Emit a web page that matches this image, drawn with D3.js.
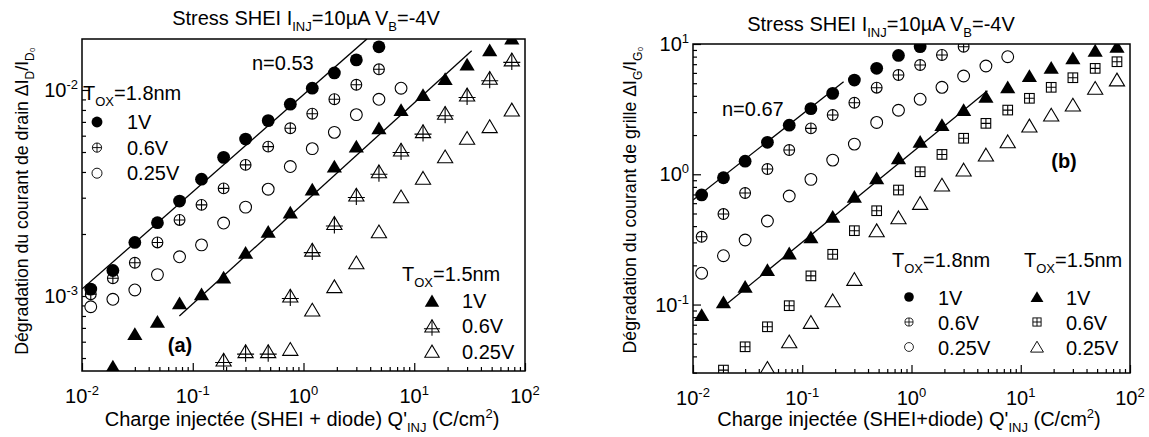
<!DOCTYPE html>
<html><head><meta charset="utf-8">
<script src="https://cdn.jsdelivr.net/npm/d3@7"></script>
<style>
body{margin:0;background:#fff}
svg text{font-family:"Liberation Sans",Arial,sans-serif;fill:#000}
</style>
</head><body>
<svg id="c" width="1149" height="437"></svg>
<script>
// ---------- DATA ----------
const Q = [0.012,0.019,0.03,0.048,0.076,0.12,0.19,0.3,0.48,0.76,1.2,1.9,3,4.8,7.6,12,19,30,48,76];
const xTickValues = [0.01,0.1,1,10,100];
const xTickExps = ["-2","-1","0","1","2"];
const leftYTickValues = [0.001,0.01];
const leftYTickExps = ["-3","-2"];
const rightYTickValues = [0.1,1,10];
const rightYTickExps = ["-1","0","1"];

// Panel (a): drain current degradation
const a18_1V   = [1.08e-3,1.33e-3,1.82e-3,2.27e-3,2.89e-3,3.69e-3,4.71e-3,5.78e-3,7.10e-3,8.53e-3,1.02e-2,1.21e-2,1.40e-2,1.62e-2,null,null,null,null,null,null];
const a18_06V  = [1.02e-3,1.22e-3,1.45e-3,1.82e-3,2.34e-3,2.77e-3,3.33e-3,4.33e-3,5.31e-3,6.52e-3,7.67e-3,9.02e-3,1.06e-2,1.26e-2,null,null,null,null,null,null];
const a18_025V = [8.87e-4,9.64e-4,1.07e-3,1.27e-3,1.55e-3,1.77e-3,2.26e-3,2.70e-3,3.30e-3,4.25e-3,5.19e-3,6.23e-3,7.59e-3,9.01e-3,1.02e-2,null,null,null,null,null];
const a15_1V   = [null,4.54e-4,6.54e-4,7.50e-4,9.22e-4,1.02e-3,1.23e-3,1.62e-3,2.05e-3,2.54e-3,3.29e-3,4.25e-3,5.31e-3,6.52e-3,8.00e-3,9.46e-3,1.13e-2,1.33e-2,1.56e-2,1.78e-2];
const a15_06V  = [null,null,null,null,null,null,4.89e-4,5.37e-4,5.37e-4,1.00e-3,1.67e-3,2.25e-3,3.09e-3,4.01e-3,5.11e-3,6.28e-3,7.71e-3,9.46e-3,1.14e-2,1.40e-2];
const a15_025V = [null,null,null,null,null,null,null,null,null,5.51e-4,8.55e-4,1.11e-3,1.45e-3,2.05e-3,3.03e-3,3.73e-3,4.74e-3,5.83e-3,6.64e-3,8.00e-3];
const aFit1 = [[0.01,1.08e-3],[3.74,0.0177]];
const aFit2 = [[0.0757,8.0e-4],[33.0,0.0155]];

// Panel (b): gate current degradation
const b18_1V   = [0.694,0.94,1.26,1.76,2.38,3.19,4.18,5.29,6.51,8.17,9.53,null,null,null,null,null,null,null,null,null];
const b18_06V  = [0.331,0.495,0.718,1.097,1.535,2.25,2.85,3.54,4.62,5.78,6.90,8.24,9.53,null,null,null,null,null,null,null];
const b18_025V = [0.174,0.237,0.313,0.438,0.681,0.914,1.285,1.705,2.50,3.10,3.77,4.65,5.68,6.78,7.99,null,null,null,null,null];
const b15_1V   = [0.083,0.104,0.137,0.184,0.247,0.328,0.472,0.673,0.931,1.325,1.778,2.39,3.11,3.94,4.65,5.68,6.58,7.76,8.89,9.53];
const b15_06V  = [null,0.0314,0.0474,0.0675,0.098,0.166,0.243,0.369,0.525,0.757,1.046,1.42,1.89,2.46,3.11,3.83,4.65,5.51,6.50,7.31];
const b15_025V = [null,null,null,0.0324,0.0518,0.0730,0.107,0.156,0.369,0.464,0.598,0.827,1.079,1.406,1.778,2.35,2.85,3.40,4.57,5.30];
const bFit1 = [[0.01,0.634],[0.239,5.14]];
const bFit2 = [[0.0198,0.0991],[4.96,4.38]];

// ---------- DRAWING ----------
const svg = d3.select("#c");
const FS = 20;

function richText(g, x, y, parts, opts={}) {
  const t = g.append("text").attr("x", x).attr("y", y)
    .attr("font-size", opts.size || FS)
    .attr("text-anchor", opts.anchor || "start");
  if (opts.weight) t.attr("font-weight", opts.weight);
  if (opts.transform) t.attr("transform", opts.transform);
  let shift = 0;
  const subFs = opts.subSize || 13;
  parts.forEach(p => {
    let target = 0, fs = null;
    if (typeof p === "string") p = {t: p};
    if (p.sub) { target = 6; fs = subFs; }
    if (p.sup) { target = -8; fs = subFs; }
    const ts = t.append("tspan").text(p.t).attr("dy", target - shift);
    if (fs) ts.attr("font-size", fs);
    shift = target;
  });
  return t;
}

function marker(g, type, cx, cy, s=1) {
  const m = g.append("g").attr("transform", `translate(${cx},${cy}) scale(${s})`);
  const triPath = "M0,-6.8L7.6,6L-7.6,6Z";
  switch(type) {
    case "dot": m.append("circle").attr("r", 6.4).attr("fill", "#000"); break;
    case "ocirc": m.append("circle").attr("r", 5.9).attr("fill", "#fff").attr("stroke", "#000").attr("stroke-width", 1.1); break;
    case "ocplus":
      m.append("circle").attr("r", 5.4).attr("fill", "#fff").attr("stroke", "#000").attr("stroke-width", 1.1);
      m.append("path").attr("d", "M-5.4,0H5.4M0,-5.4V5.4").attr("stroke", "#000").attr("stroke-width", 1.1);
      break;
    case "tri": m.append("path").attr("d", triPath).attr("fill", "#000"); break;
    case "otri": m.append("path").attr("d", triPath).attr("fill", "#fff").attr("stroke", "#000").attr("stroke-width", 1.1); break;
    case "tricross":
      m.append("path").attr("d", triPath).attr("fill", "#fff").attr("stroke", "#000").attr("stroke-width", 1.1);
      m.append("path").attr("d", "M0,-6.8V10M-8.5,2.5H8.5").attr("stroke", "#000").attr("stroke-width", 1.1);
      break;
    case "sqplus":
      m.append("rect").attr("x", -4.8).attr("y", -4.8).attr("width", 9.6).attr("height", 9.6).attr("fill", "#fff").attr("stroke", "#000").attr("stroke-width", 1.1);
      m.append("path").attr("d", "M-4.8,0H4.8M0,-4.8V4.8").attr("stroke", "#000").attr("stroke-width", 1.1);
      break;
  }
}

function minorTicks(domain) {
  const out = [];
  const lo = Math.floor(Math.log10(domain[0])), hi = Math.ceil(Math.log10(domain[1]));
  for (let e = lo; e <= hi; e++) for (let k = 2; k <= 9; k++) {
    const v = k * Math.pow(10, e);
    if (v > domain[0] * 1.0001 && v < domain[1] * 0.9999) out.push(v);
  }
  return out;
}

function panel(cfg) {
  const g = svg.append("g");
  const x = d3.scaleLog().domain(cfg.xDomain).range([cfg.x0, cfg.x1]);
  const y = d3.scaleLog().domain(cfg.yDomain).range([cfg.y1, cfg.y0]);
  const clipId = "clip" + cfg.id;
  svg.append("clipPath").attr("id", clipId).append("rect")
    .attr("x", cfg.x0).attr("y", cfg.y0).attr("width", cfg.x1 - cfg.x0).attr("height", cfg.y1 - cfg.y0);

  const ax = (axisFn, scale, vals, len) => axisFn(scale).tickValues(vals).tickSizeInner(-len).tickSizeOuter(0).tickFormat("");
  const gx1 = g.append("g").attr("transform", `translate(0,${cfg.y1})`).call(ax(d3.axisBottom, x, minorTicks(cfg.xDomain), 4));
  const gx2 = g.append("g").attr("transform", `translate(0,${cfg.y1})`).call(ax(d3.axisBottom, x, xTickValues, 8));
  const gy1 = g.append("g").attr("transform", `translate(${cfg.x0},0)`).call(ax(d3.axisLeft, y, minorTicks(cfg.yDomain), 4));
  const gy2 = g.append("g").attr("transform", `translate(${cfg.x0},0)`).call(ax(d3.axisLeft, y, cfg.yTicks, 8));
  [gx1, gx2, gy1, gy2].forEach(a => { a.select(".domain").remove(); a.selectAll("line").attr("stroke", "#000").attr("stroke-width", 1.2); });

  xTickValues.forEach((v, i) => richText(g, x(v), cfg.y1 + 32, ["10", {t: xTickExps[i], sup: true}], {anchor: "middle"}));
  cfg.yTicks.forEach((v, i) => richText(g, cfg.x0 - 4, y(v) + 7, ["10", {t: cfg.yExps[i], sup: true}], {anchor: "end"}));

  const pl = g.append("g").attr("clip-path", `url(#${clipId})`);
  const line = d3.line().x(d => x(d[0])).y(d => y(d[1]));
  cfg.fits.forEach(f => pl.append("path").attr("d", line(f)).attr("fill", "none").attr("stroke", "#000").attr("stroke-width", 1.3));
  cfg.series.forEach(s => {
    s.values.forEach((v, i) => { if (v != null) marker(pl, s.type, x(Q[i]), y(v), 1); });
  });

  g.append("rect").attr("x", cfg.x0).attr("y", cfg.y0).attr("width", cfg.x1 - cfg.x0).attr("height", cfg.y1 - cfg.y0)
    .attr("fill", "none").attr("stroke", "#000").attr("stroke-width", 1.5);

  richText(g, cfg.titleX, cfg.titleY, ["Stress SHEI I", {t: "INJ", sub: true}, "=10\u00b5A V", {t: "B", sub: true}, "=-4V"], {anchor: "middle"});
  richText(g, cfg.xLabelX, 426, cfg.xLabel, {anchor: "middle", size: 20});
  richText(g, 0, 0, cfg.yLabel, {anchor: "middle", size: 17.7, subSize: 12, transform: `translate(${cfg.yLabelX},${cfg.yLabelY}) rotate(-90)`});
  return {g, x, y};
}

const pa = panel({
  id: "a", x0: 82, x1: 525, y0: 39, y1: 371,
  xDomain: [0.01, 100], yDomain: [4.325e-4, 0.01768],
  yTicks: leftYTickValues, yExps: leftYTickExps,
  fits: [aFit1, aFit2],
  series: [
    {type: "ocirc", values: a18_025V}, {type: "ocplus", values: a18_06V}, {type: "dot", values: a18_1V},
    {type: "otri", values: a15_025V}, {type: "tricross", values: a15_06V}, {type: "tri", values: a15_1V}
  ],
  titleX: 306, titleY: 25,
  xLabelX: 302, xLabel: ["Charge inject\u00e9e (SHEI + diode) Q'", {t: "INJ", sub: true}, " (C/cm", {t: "2", sup: true}, ")"],
  yLabelX: 28, yLabelY: 201, yLabel: ["D\u00e9gradation du courant de drain \u0394I", {t: "D", sub: true}, "/I", {t: "D\u2080", sub: true}]
});

const pb = panel({
  id: "b", x0: 693, x1: 1130, y0: 44, y1: 373,
  xDomain: [0.01, 100], yDomain: [0.02982, 10],
  yTicks: rightYTickValues, yExps: rightYTickExps,
  fits: [bFit1, bFit2],
  series: [
    {type: "ocirc", values: b18_025V}, {type: "ocplus", values: b18_06V}, {type: "dot", values: b18_1V},
    {type: "otri", values: b15_025V}, {type: "sqplus", values: b15_06V}, {type: "tri", values: b15_1V}
  ],
  titleX: 881, titleY: 31,
  xLabelX: 909, xLabel: ["Charge inject\u00e9e (SHEI+diode) Q'", {t: "INJ", sub: true}, " (C/cm", {t: "2", sup: true}, ")"],
  yLabelX: 636, yLabelY: 200, yLabel: ["D\u00e9gradation du courant de grille \u0394I", {t: "G", sub: true}, "/I", {t: "G\u2080", sub: true}]
});

const ga = pa.g;
richText(ga, 252, 70, ["n=0.53"]);
richText(ga, 180, 352, ["(a)"], {anchor: "middle", weight: "bold"});
richText(ga, 83, 100, ["T", {t: "OX", sub: true}, "=1.8nm"]);
[["dot", "1V"], ["ocplus", "0.6V"], ["ocirc", "0.25V"]].forEach((r, i) => {
  marker(ga, r[0], 97, 122 + i * 25.6, 0.85);
  richText(ga, 127, 129 + i * 25.6, [r[1]]);
});
richText(ga, 402, 281, ["T", {t: "OX", sub: true}, "=1.5nm"]);
[["tri", "1V"], ["tricross", "0.6V"], ["otri", "0.25V"]].forEach((r, i) => {
  marker(ga, r[0], 432, 301 + i * 25.3, 0.95);
  richText(ga, 462, 308 + i * 25.3, [r[1]]);
});

const gb = pb.g;
richText(gb, 722, 116, ["n=0.67"]);
richText(gb, 1064, 168, ["(b)"], {anchor: "middle", weight: "bold"});
richText(gb, 892, 267, ["T", {t: "OX", sub: true}, "=1.8nm"]);
richText(gb, 1024, 267, ["T", {t: "OX", sub: true}, "=1.5nm"]);
[["dot", "1V", "tri"], ["ocplus", "0.6V", "sqplus"], ["ocirc", "0.25V", "otri"]].forEach((r, i) => {
  marker(gb, r[0], 909, 297 + i * 25, 0.75);
  richText(gb, 938, 305 + i * 25, [r[1]]);
  marker(gb, r[2], 1037, 297 + i * 25, 0.85);
  richText(gb, 1066, 305 + i * 25, [r[1]]);
});
</script>
</body></html>
